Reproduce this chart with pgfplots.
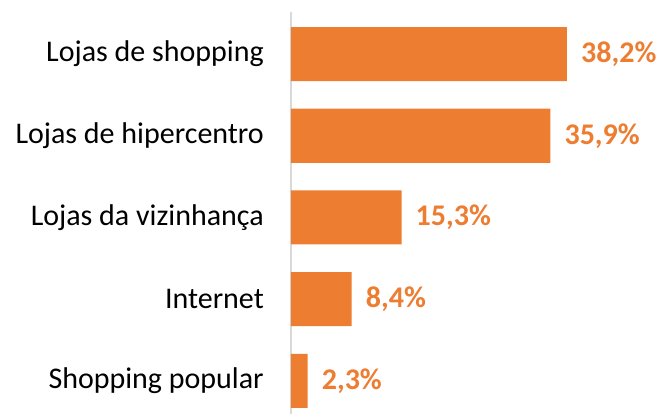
\documentclass[border=0pt]{standalone}
\usepackage{pgfplots}
\pgfplotsset{compat=1.18}
\usepackage{fontspec}
\setmainfont{Carlito}
\definecolor{barc}{HTML}{ED7D31}
\definecolor{axc}{HTML}{D9D9D9}
\begin{document}
\begin{tikzpicture}
\begin{axis}[
  scale only axis,
  width=366pt, height=402pt,
  xbar, bar width=54pt,
  xmin=0, xmax=50.66,
  ymin=-0.404, ymax=4.514,
  axis x line=none,
  axis y line=left,
  axis line style={-, axc, line width=1.5pt},
  ytick={0,1,2,3,4},
  yticklabels={Shopping popular, Internet, Lojas da vizinhança, Lojas de hipercentro, Lojas de shopping},
  major tick length=0pt,
  yticklabel style={font=\fontsize{30}{32}\selectfont, inner sep=0pt, xshift=-27pt, text=black},
  /pgf/number format/assume math mode=true,
  nodes near coords={\pgfmathprintnumber[fixed,fixed zerofill,precision=1,use comma,assume math mode=true]{\pgfplotspointmeta}\%},
  nodes near coords style={font=\fontsize{30}{32}\selectfont\bfseries, text=barc, anchor=west, inner sep=0pt, xshift=14pt},
  point meta=explicit,
  clip=false,
]
\addplot[fill=barc, draw=none] coordinates {
  (2.3,0) [2.3]
  (8.4,1) [8.4]
  (15.3,2) [15.3]
  (35.9,3) [35.9]
  (38.2,4) [38.2]
};
\path (rel axis cs:1,1) ++(0pt,12pt);
\path (rel axis cs:0,0) ++(-291pt,0pt);
\end{axis}
\end{tikzpicture}
\end{document}
